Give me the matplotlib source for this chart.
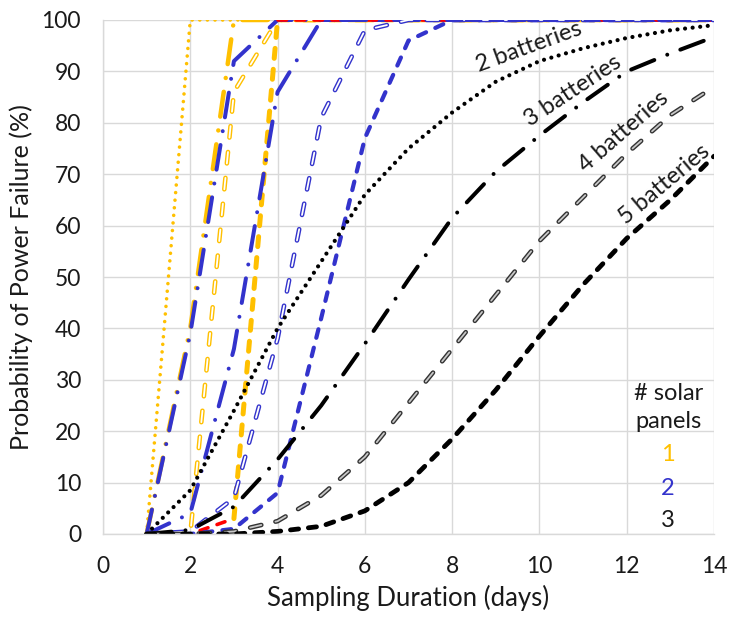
import numpy as np
import matplotlib
matplotlib.use("Agg")
import matplotlib.pyplot as plt
import matplotlib.patheffects as pe

plt.rcParams['font.family'] = ['Lato', 'DejaVu Sans']
plt.rcParams['lines.scale_dashes'] = False

nan = np.nan
days = list(range(1, 15))

# 1 solar panel (yellow)
y_bat2 = [0, 100, 100, 100, 100, 100, 100, 100, 100, 100, 100, 100, 100, 100]
y_bat3 = [0, 40, 100, 100, 100, 100, 100, 100, 100, 100, 100, 100, 100, 100]
y_bat4 = [0, 0, 86, 100, 100, 100, 100, 100, 100, 100, 100, 100, 100, 100]
y_bat5 = [nan, nan, 3, 100, nan, nan, nan, nan, nan, nan, nan, nan, nan, nan]
red_days_low = [1, 2, 3]
red_low = [0, 0, 3]
red_days_high = [4, 5, 6, 7, 8, 9, 10, 11, 12, 13, 14]
red_high = [100, 100, 100, 100, 100, 100, 100, 100, 100, 100, 100]

# 2 solar panels (blue)
b_bat2 = [0, 39, 92, 100, 100, 100, 100, 100, 100, 100, 100, 100, 100, 100]
b_bat3 = [0, 4, 36, 86, 100, 100, 100, 100, 100, 100, 100, 100, 100, 100]
b_bat4 = [0, 0.5, 7, 38, 81, 98, 100, 100, 100, 100, 100, 100, 100, 100]
b_bat5 = [0, 0, 1, 8, 42, 77, 96, 100, 100, 100, 100, 100, 100, 100]

# 3 solar panels (black)
k_bat2 = [0, 8.5, 24, 40, 53, 66, 75, 82, 88, 92, 94.5, 96.5, 98, 99]
k_bat3 = [0, 0.8, 5.3, 14.5, 25, 37, 49.5, 61.5, 70.5, 77.5, 84, 90, 93.5, 96.7]
k_bat4 = [0, 0, 0.5, 2.5, 7.5, 15, 25.5, 36, 46.5, 57, 65.5, 74, 81.5, 87]
k_bat5 = [0, 0, 0, 0.5, 1.5, 4.5, 10, 18.5, 28, 38.5, 48.5, 57.5, 65, 73.5]

xticks = [0, 2, 4, 6, 8, 10, 12, 14]
yticks = [0, 10, 20, 30, 40, 50, 60, 70, 80, 90, 100]
battery_labels = ["2 batteries", "3 batteries", "4 batteries", "5 batteries"]
panel_labels = ["1", "2", "3"]

YEL = '#FFC000'
BLU = '#3333CC'
BLK = '#000000'
RED = '#FF0000'
TXT = '#1a1a1a'

PX = 0.72  # points per pixel at 100 dpi

fig = plt.figure(figsize=(7.29, 6.17), dpi=100)
ax = fig.add_axes([103/729, 1-534/617, (714-103)/729, (534-20)/617])


def dotted(x, y, c, lw=4.2):
    ax.plot(x, y, color=c, lw=lw*PX, linestyle=(0, (0.01, 7.6*PX)),
            dash_capstyle='round', solid_capstyle='round')


def dashdot(x, y, c, lw=4.0):
    ax.plot(x, y, color=c, lw=lw*PX,
            linestyle=(0, (25*PX, 14*PX, 0.01, 14*PX)),
            dash_capstyle='round')


def hollow(x, y, c, inner='white', lw=4.6):
    ax.plot(x, y, color=inner, lw=1.8*PX,
            linestyle=(0, (11.5*PX, 14.5*PX)), dash_capstyle='round',
            path_effects=[pe.Stroke(linewidth=lw*PX, foreground=c), pe.Normal()])


def thickdash(x, y, c, lw=4.6, on=13, off=5):
    ax.plot(x, y, color=c, lw=lw*PX,
            linestyle=(0, ((on-lw)*PX, (off+lw)*PX)), dash_capstyle='round')


dotted(days, y_bat2, YEL, 3.6)
dashdot(days, y_bat3, YEL, 4.5)
hollow(days, y_bat4, YEL)
dashdot(days, b_bat2, BLU)
thickdash(red_days_low, red_low, RED, 3.6, 12, 6)
thickdash(red_days_high, red_high, RED, 3.6, 12, 6)
thickdash(days, y_bat5, YEL, 5.0, 15, 6)
dashdot(days, b_bat3, BLU)
hollow(days, b_bat4, BLU)
thickdash(days, b_bat5, BLU, 4.2, 13, 6)
dotted(days, k_bat2, BLK)
dashdot(days, k_bat3, BLK)
hollow(days, k_bat4, '#333333', inner='#c8c8c8')
thickdash(days, k_bat5, BLK, 4.8, 13, 5)

ax.set_xlim(0, 14)
ax.set_ylim(0, 100)
ax.set_xticks(xticks)
ax.set_yticks(yticks)
ax.grid(True, color='#d9d9d9', lw=1.0)
ax.set_axisbelow(True)
for s in ['top', 'right']:
    ax.spines[s].set_visible(False)
for s in ['left', 'bottom']:
    ax.spines[s].set_color('#d9d9d9')
    ax.spines[s].set_linewidth(1.0)
ax.tick_params(length=0, labelsize=16.5, colors=TXT)
ax.tick_params(axis='y', pad=22*PX)
ax.tick_params(axis='x', pad=22*PX)

ax.set_xlabel("Sampling Duration (days)", fontsize=18.5, color=TXT, labelpad=6)
ax.set_ylabel("Probability of Power Failure (%)", fontsize=18, color=TXT, labelpad=6)

# battery annotations
lab_pos = [(9.76, 94.7, 20), (10.77, 86.2, 33.5), (11.94, 78.2, 41), (12.86, 68.1, 40)]
for txt, (x, y, r) in zip(battery_labels, lab_pos):
    ax.text(x, y, txt, fontsize=17, rotation=r, ha='center', va='center',
            rotation_mode='anchor', color=TXT)

# panel legend
ax.text(12.95, 27.4, "# solar", fontsize=17, ha='center', va='center', color=TXT)
ax.text(12.95, 21.8, "panels", fontsize=17, ha='center', va='center', color=TXT)
for txt, y, c in zip(panel_labels, [15.4, 8.9, 2.7], [YEL, BLU, TXT]):
    ax.text(12.95, y, txt, fontsize=17, ha='center', va='center', color=c)

fig.savefig("out.png", dpi=100)
